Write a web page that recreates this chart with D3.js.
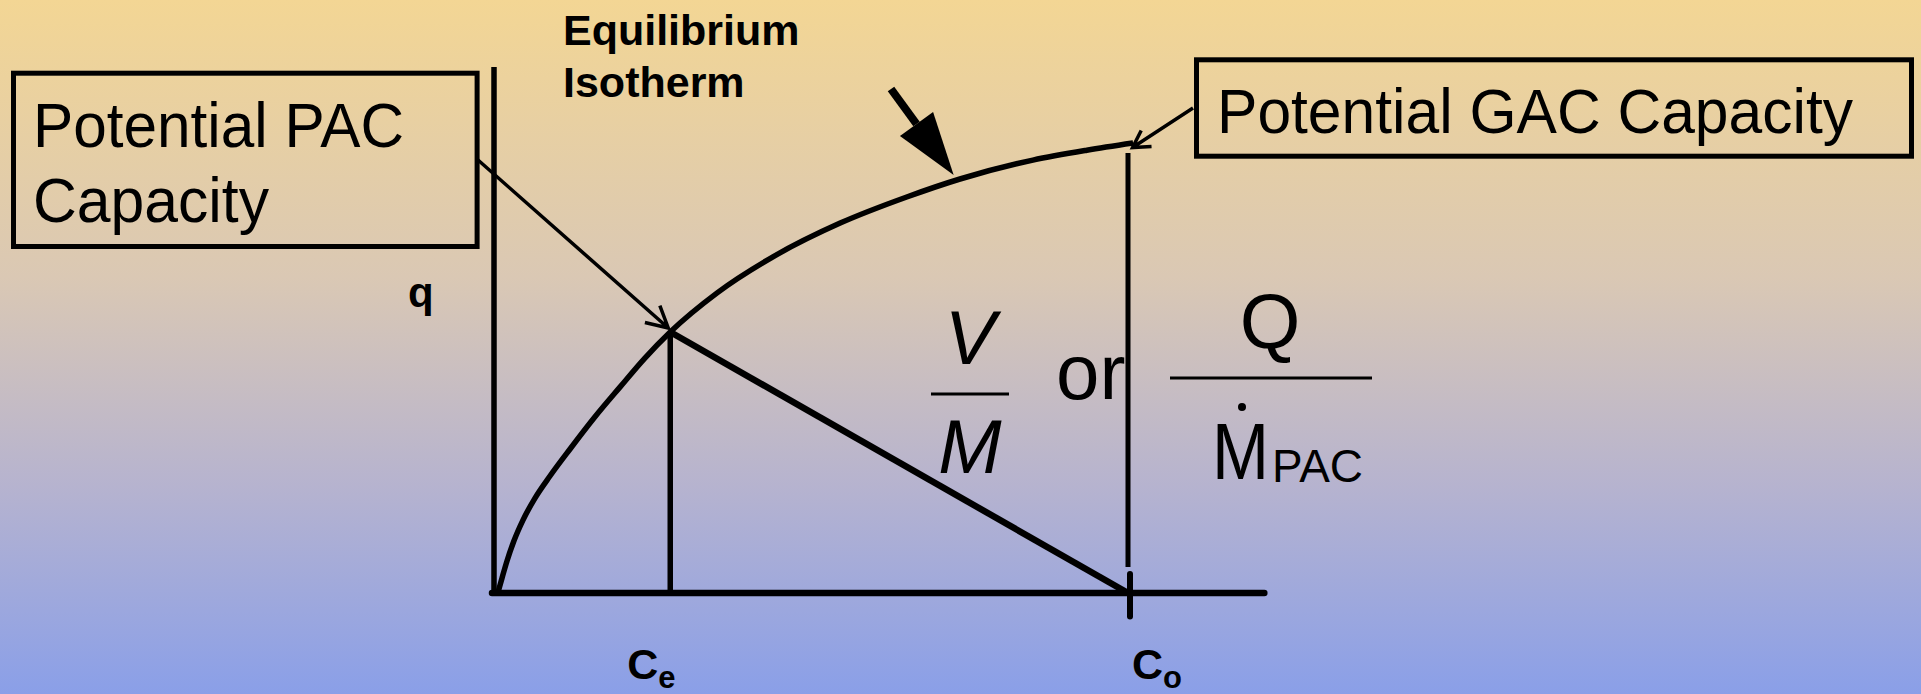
<!DOCTYPE html>
<html>
<head>
<meta charset="utf-8">
<script src="https://cdn.jsdelivr.net/npm/d3@7"></script>
<style>
  body { margin: 0; }
  svg { display: block; }
</style>
</head>
<body>
<div id="chart"></div>
<script>
// isotherm, C and q in relative units (Co = 100, q at Co = 100)
const isothermC = [0.6, 1.26, 2.05, 3.15, 4.57, 6.47, 8.83, 12.0, 15.9, 19.9, 23.8, 27.8, 35.2, 44.0, 54.6, 65.1, 73.5, 85.0, 93.5, 100.8];
const isothermQ = [0, 3.3, 7.1, 11.6, 16.2, 21.1, 26.0, 32.0, 39.1, 45.8, 52.2, 58.0, 66.7, 74.7, 82.2, 88.0, 92.0, 96.2, 98.4, 100];

// equilibrium point and initial concentration
const ceValue = 27.8, qeValue = 58.0;
const coValue = 100, coLineTop = 97.8;

// axis extents
const xAxisEnd = 121.5, yAxisEnd = 116.9;

// labels under the x axis
const xLabelMain = ["C", "C"];
const xLabelSub = ["e", "o"];
const xLabelAt = [ceValue, coValue];

(function () {
    let width = 1921, height = 694;
    let font = "'Liberation Sans', Arial, sans-serif";
    let svg = d3.select("#chart")
        .append("svg")
        .attr("width", width)
        .attr("height", height);

    let grad = svg.append("defs").append("linearGradient")
        .attr("id", "bg")
        .attr("x1", 0).attr("y1", 0).attr("x2", 0).attr("y2", 1);
    [[0, "#f3d694"], [0.4, "#dac8b4"], [0.7, "#b6b3cf"], [1, "#8a9fe8"]].forEach(s => {
        grad.append("stop").attr("offset", s[0]).attr("stop-color", s[1]);
    });
    svg.append("rect")
        .attr("width", width)
        .attr("height", height)
        .attr("fill", "url(#bg)");

    let x = d3.scaleLinear()
        .domain([0, 100])
        .range([494, 1128]);
    let y = d3.scaleLinear()
        .domain([0, 100])
        .range([593, 143]);

    // axes
    svg.append("line")
        .attr("x1", x(0) - 2).attr("x2", x(xAxisEnd))
        .attr("y1", y(0)).attr("y2", y(0))
        .attr("stroke", "black")
        .attr("stroke-width", 6.5)
        .attr("stroke-linecap", "round");
    svg.append("line")
        .attr("x1", x(0)).attr("x2", x(0))
        .attr("y1", y(0) + 3).attr("y2", y(yAxisEnd))
        .attr("stroke", "black")
        .attr("stroke-width", 5.5);

    // Ce drop line
    svg.append("line")
        .attr("x1", x(ceValue)).attr("x2", x(ceValue))
        .attr("y1", y(0)).attr("y2", y(qeValue))
        .attr("stroke", "black")
        .attr("stroke-width", 5.5);

    // Co line and tick
    svg.append("line")
        .attr("x1", x(coValue)).attr("x2", x(coValue))
        .attr("y1", y(5.8)).attr("y2", y(coLineTop))
        .attr("stroke", "black")
        .attr("stroke-width", 5);
    svg.append("line")
        .attr("x1", x(coValue) + 2).attr("x2", x(coValue) + 2)
        .attr("y1", y(4.2)).attr("y2", y(-5.2))
        .attr("stroke", "black")
        .attr("stroke-width", 6)
        .attr("stroke-linecap", "round");

    // operating line
    svg.append("line")
        .attr("x1", x(ceValue)).attr("x2", x(coValue))
        .attr("y1", y(qeValue)).attr("y2", y(0))
        .attr("stroke", "black")
        .attr("stroke-width", 6.5);

    // isotherm
    let line = d3.line()
        .x(d => x(d[0]))
        .y(d => y(d[1]))
        .curve(d3.curveMonotoneX);
    svg.append("path")
        .datum(d3.zip(isothermC, isothermQ))
        .attr("d", line)
        .attr("fill", "none")
        .attr("stroke", "black")
        .attr("stroke-width", 5.5);

    function openArrow(x0, y0, x1, y1, len, ang, w) {
        let back = Math.atan2(y0 - y1, x0 - x1);
        let a1 = [x1 + len * Math.cos(back + ang), y1 + len * Math.sin(back + ang)];
        let a2 = [x1 + len * Math.cos(back - ang), y1 + len * Math.sin(back - ang)];
        svg.append("path")
            .attr("d", `M${x0},${y0}L${x1},${y1}M${a1}L${x1},${y1}L${a2}`)
            .attr("fill", "none")
            .attr("stroke", "black")
            .attr("stroke-width", w);
    }

    function solidArrow(x0, y0, x1, y1, len, wid, w) {
        let dir = Math.atan2(y1 - y0, x1 - x0);
        let bx = x1 - len * Math.cos(dir), by = y1 - len * Math.sin(dir);
        let px = -Math.sin(dir) * wid / 2, py = Math.cos(dir) * wid / 2;
        svg.append("line")
            .attr("x1", x0).attr("y1", y0)
            .attr("x2", bx).attr("y2", by)
            .attr("stroke", "black")
            .attr("stroke-width", w);
        svg.append("path")
            .attr("d", `M${x1},${y1}L${bx + px},${by + py}L${bx - px},${by - py}Z`)
            .attr("fill", "black");
    }

    // boxes
    svg.append("rect")
        .attr("x", 13.5).attr("y", 73.2)
        .attr("width", 463.6).attr("height", 173.3)
        .attr("fill", "none")
        .attr("stroke", "black")
        .attr("stroke-width", 5);
    svg.append("rect")
        .attr("x", 1196.5).attr("y", 59.8)
        .attr("width", 715).attr("height", 96.4)
        .attr("fill", "none")
        .attr("stroke", "black")
        .attr("stroke-width", 5);

    // arrows
    openArrow(478, 160, x(ceValue) - 2, y(qeValue) - 4, 24, 0.49, 3.5);
    openArrow(1193, 108, x(100.8) - 0.5, y(99), 19, 0.52, 3.5);
    solidArrow(891, 89, x(72.5), y(91.8) - 5, 63, 41, 8);

    // box labels
    let boxText = [
        ["Potential PAC", 33, 147, 371],
        ["Capacity", 33, 222, 236],
        ["Potential GAC Capacity", 1217, 133, 636]
    ];
    svg.selectAll(".boxlabel")
        .data(boxText)
        .enter()
        .append("text")
        .attr("x", d => d[1])
        .attr("y", d => d[2])
        .attr("textLength", d => d[3])
        .attr("lengthAdjust", "spacingAndGlyphs")
        .attr("font-family", font)
        .attr("font-size", 63)
        .text(d => d[0]);

    // isotherm title
    svg.append("text")
        .attr("font-family", font)
        .attr("font-weight", "bold")
        .attr("font-size", 43)
        .selectAll("tspan")
        .data(["Equilibrium", "Isotherm"])
        .enter()
        .append("tspan")
        .attr("x", 563)
        .attr("y", (_, i) => 45 + i * 52)
        .text(d => d);

    // axis labels
    svg.append("text")
        .attr("x", 408)
        .attr("y", 307)
        .attr("font-family", font)
        .attr("font-weight", "bold")
        .attr("font-size", 42)
        .text("q");

    let labelShift = [-43, 4];
    xLabelMain.forEach((m, i) => {
        let t = svg.append("text")
            .attr("x", x(xLabelAt[i]) + labelShift[i])
            .attr("y", 679)
            .attr("font-family", font)
            .attr("font-weight", "bold")
            .attr("font-size", 43);
        t.append("tspan").text(m);
        t.append("tspan")
            .attr("dy", 9)
            .attr("font-size", 31)
            .text(xLabelSub[i]);
    });

    // V/M or Q/Mdot_PAC
    svg.append("text")
        .attr("x", 970).attr("y", 364)
        .attr("text-anchor", "middle")
        .attr("font-family", font)
        .attr("font-style", "italic")
        .attr("font-size", 76)
        .text("V");
    svg.append("line")
        .attr("x1", 931).attr("x2", 1009)
        .attr("y1", 394).attr("y2", 394)
        .attr("stroke", "black")
        .attr("stroke-width", 3);
    svg.append("text")
        .attr("x", 970).attr("y", 473)
        .attr("text-anchor", "middle")
        .attr("font-family", font)
        .attr("font-style", "italic")
        .attr("font-size", 76)
        .text("M");
    svg.append("text")
        .attr("x", 1056).attr("y", 399)
        .attr("font-family", font)
        .attr("font-size", 78)
        .text("or");
    svg.append("text")
        .attr("x", 1270).attr("y", 348)
        .attr("text-anchor", "middle")
        .attr("font-family", font)
        .attr("font-size", 78)
        .text("Q");
    svg.append("line")
        .attr("x1", 1170).attr("x2", 1372)
        .attr("y1", 378).attr("y2", 378)
        .attr("stroke", "black")
        .attr("stroke-width", 3);
    svg.append("text")
        .attr("x", 1212).attr("y", 479)
        .attr("textLength", 57)
        .attr("lengthAdjust", "spacingAndGlyphs")
        .attr("font-family", font)
        .attr("font-size", 80)
        .text("M");
    svg.append("circle")
        .attr("cx", 1242).attr("cy", 407)
        .attr("r", 4)
        .attr("fill", "black");
    svg.append("text")
        .attr("x", 1272).attr("y", 482)
        .attr("textLength", 91)
        .attr("lengthAdjust", "spacingAndGlyphs")
        .attr("font-family", font)
        .attr("font-size", 46)
        .text("PAC");
})()
</script>
</body>
</html>
